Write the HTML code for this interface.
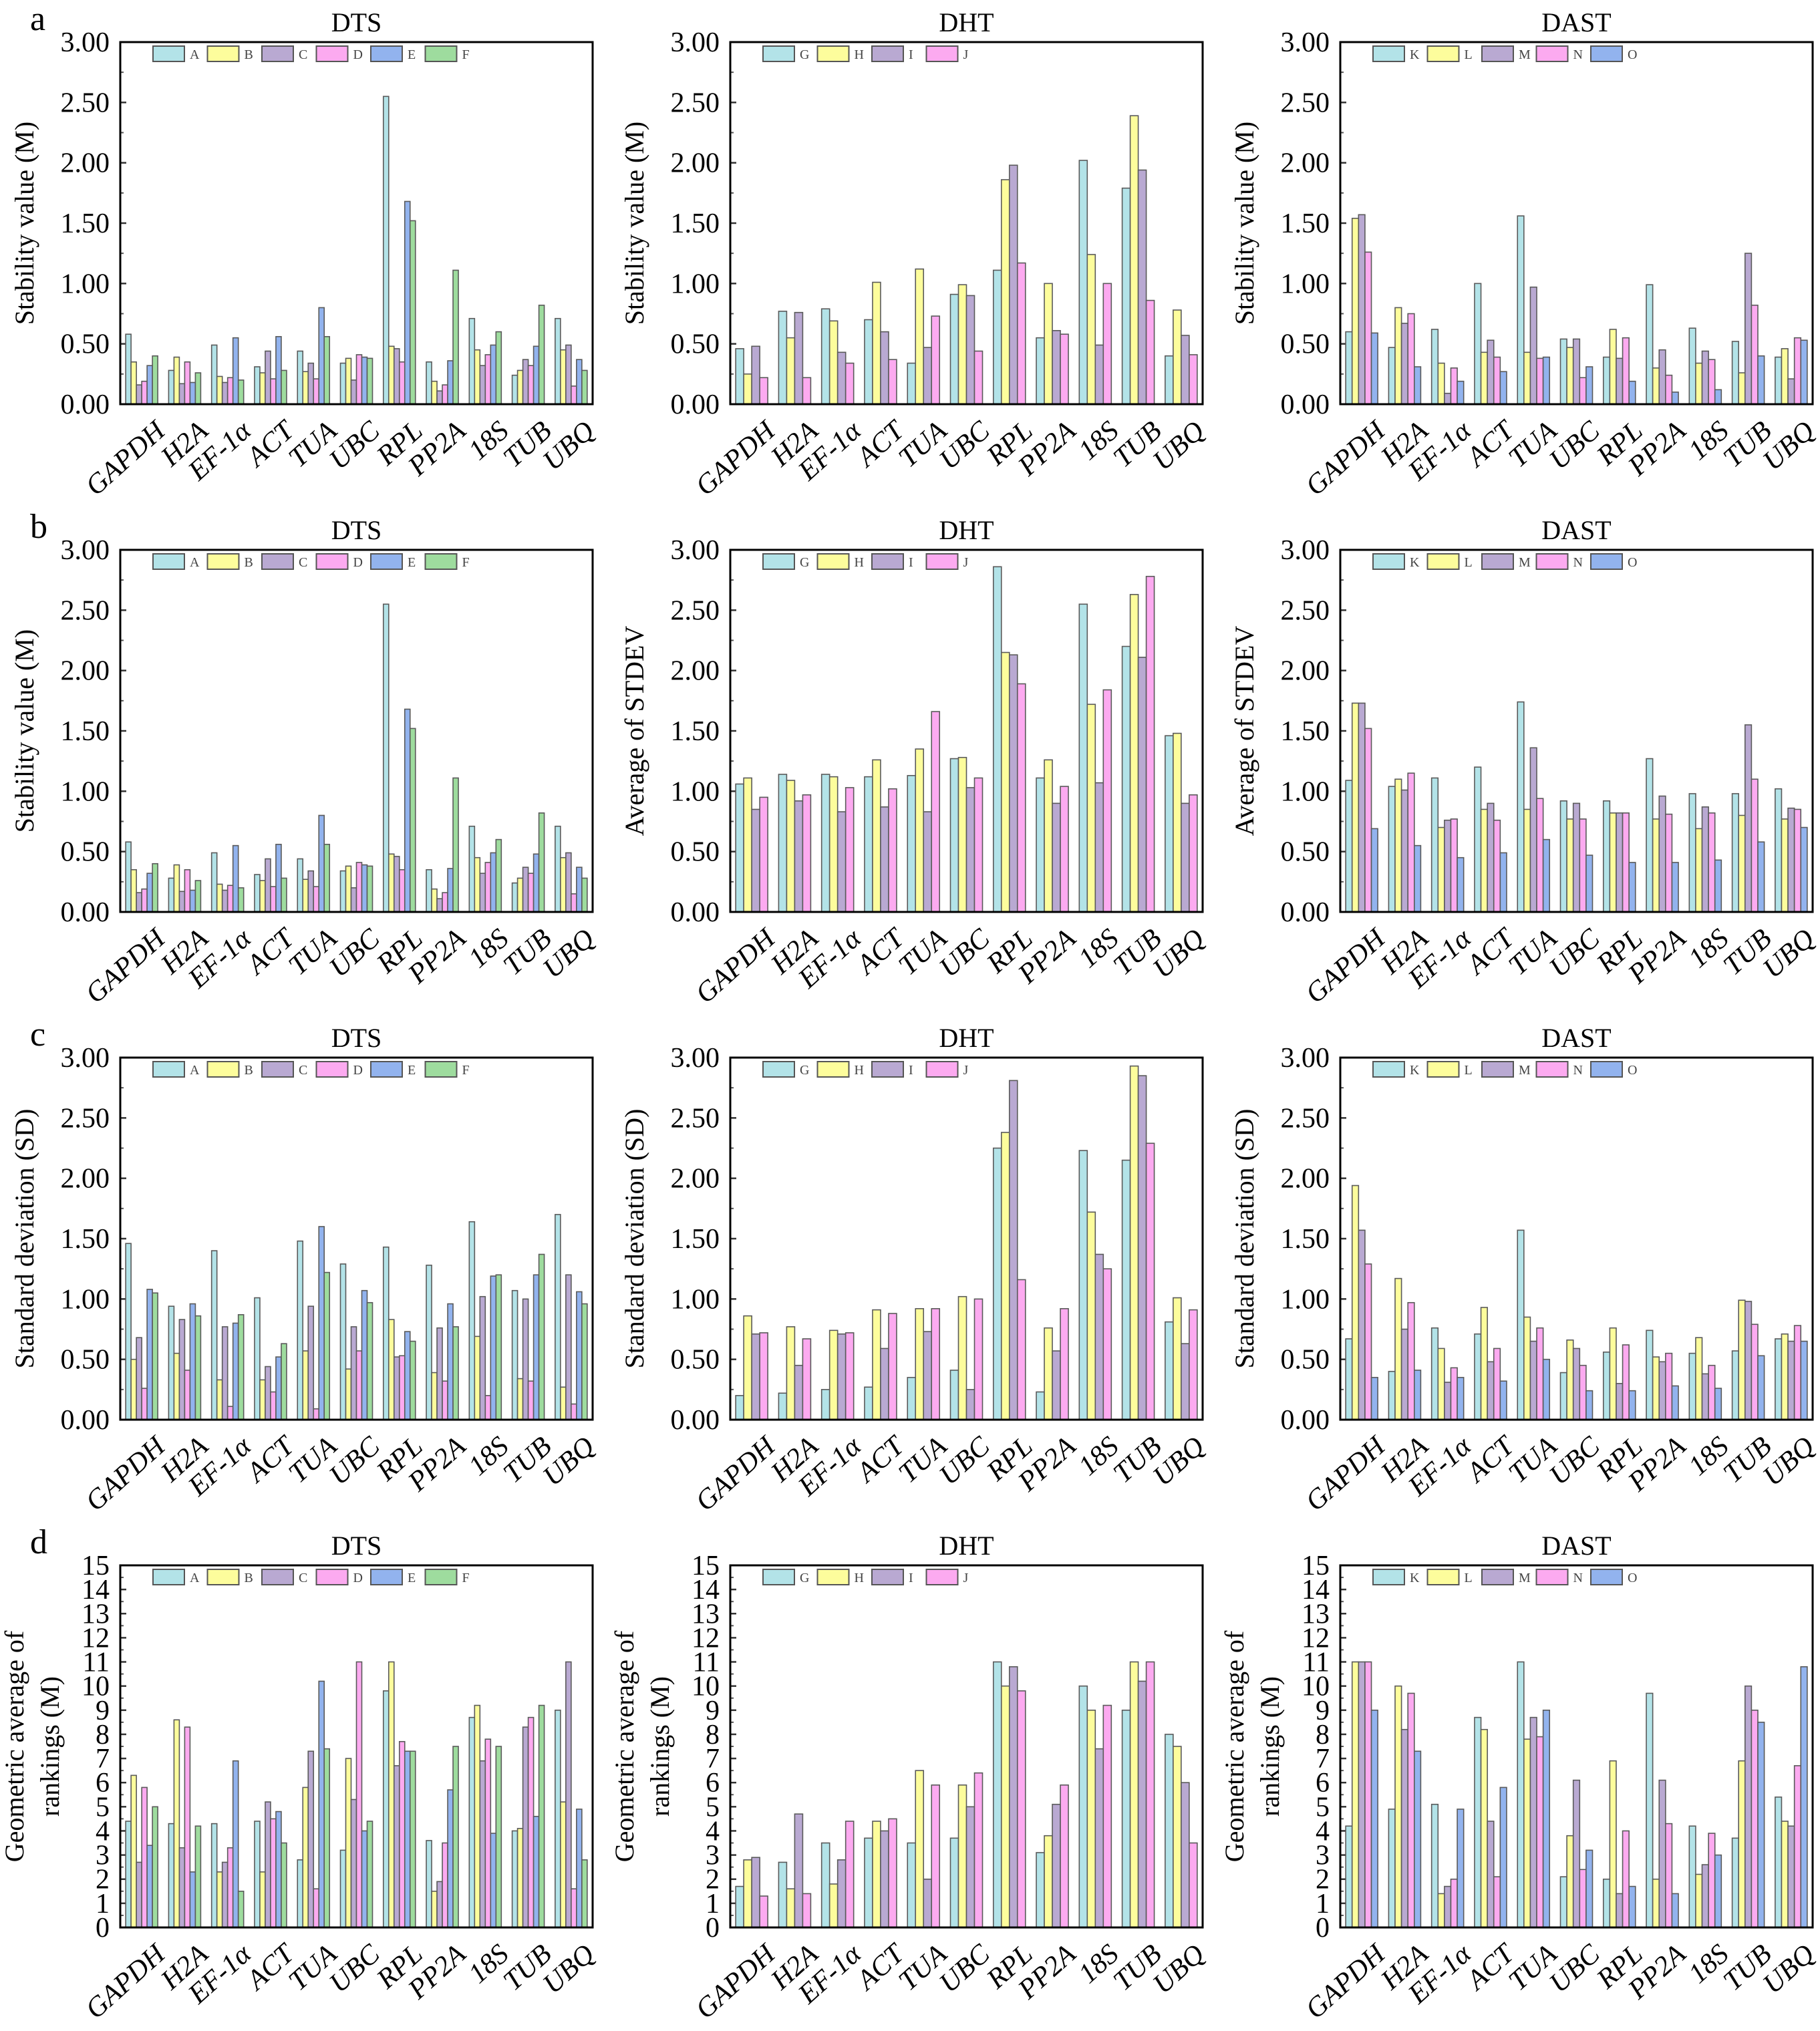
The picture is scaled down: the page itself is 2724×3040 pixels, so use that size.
<!DOCTYPE html>
<html><head><meta charset="utf-8">
<style>
html,body{margin:0;padding:0;background:#fff;}
svg{display:block;font-family:"Liberation Serif","Times New Roman",serif;}
</style></head>
<body>
<svg id="fig" width="2724" height="3040" viewBox="0 0 2724 3040" xmlns="http://www.w3.org/2000/svg"></svg>
<script>
const genes = ["GAPDH","H2A","EF-1α","ACT","TUA","UBC","RPL","PP2A","18S","TUB","UBQ"];
const dtsSeries = ["A","B","C","D","E","F"];
const dhtSeries = ["G","H","I","J"];
const dastSeries = ["K","L","M","N","O"];
const dtsColors = ["#b3e3e8","#fdfd9c","#b9a9d2","#fcaaf0","#92b3ee","#9edc9e"];
const dhtColors = ["#b3e3e8","#fdfd9c","#b9a9d2","#fcaaf0"];
const dastColors = ["#b3e3e8","#fdfd9c","#b9a9d2","#fcaaf0","#92b3ee"];
const stabTicks = ["0.00","0.50","1.00","1.50","2.00","2.50","3.00"];
const rankTicks = ["0","1","2","3","4","5","6","7","8","9","10","11","12","13","14","15"];

const aDTS = [[.58,.35,.16,.19,.32,.40],[.28,.39,.17,.35,.18,.26],[.49,.23,.18,.22,.55,.20],[.31,.26,.44,.21,.56,.28],[.44,.27,.34,.21,.80,.56],[.34,.38,.20,.41,.39,.38],[2.55,.48,.46,.35,1.68,1.52],[.35,.19,.11,.16,.36,1.11],[.71,.45,.32,.41,.49,.60],[.24,.28,.37,.32,.48,.82],[.71,.45,.49,.15,.37,.28]];
const aDHT = [[.46,.25,.48,.22],[.77,.55,.76,.22],[.79,.69,.43,.34],[.70,1.01,.60,.37],[.34,1.12,.47,.73],[.91,.99,.90,.44],[1.11,1.86,1.98,1.17],[.55,1.00,.61,.58],[2.02,1.24,.49,1.00],[1.79,2.39,1.94,.86],[.40,.78,.57,.41]];
const aDAST = [[.60,1.54,1.57,1.26,.59],[.47,.80,.67,.75,.31],[.62,.34,.09,.30,.19],[1.00,.43,.53,.39,.27],[1.56,.43,.97,.38,.39],[.54,.47,.54,.22,.31],[.39,.62,.38,.55,.19],[.99,.30,.45,.24,.10],[.63,.34,.44,.37,.12],[.52,.26,1.25,.82,.40],[.39,.46,.21,.55,.53]];
const bDTS = [[.58,.35,.16,.19,.32,.40],[.28,.39,.17,.35,.18,.26],[.49,.23,.18,.22,.55,.20],[.31,.26,.44,.21,.56,.28],[.44,.27,.34,.21,.80,.56],[.34,.38,.20,.41,.39,.38],[2.55,.48,.46,.35,1.68,1.52],[.35,.19,.11,.16,.36,1.11],[.71,.45,.32,.41,.49,.60],[.24,.28,.37,.32,.48,.82],[.71,.45,.49,.15,.37,.28]];
const bDHT = [[1.06,1.11,.85,.95],[1.14,1.09,.92,.97],[1.14,1.12,.83,1.03],[1.12,1.26,.87,1.02],[1.13,1.35,.83,1.66],[1.27,1.28,1.03,1.11],[2.86,2.15,2.13,1.89],[1.11,1.26,.90,1.04],[2.55,1.72,1.07,1.84],[2.20,2.63,2.11,2.78],[1.46,1.48,.90,.97]];
const bDAST = [[1.09,1.73,1.73,1.52,.69],[1.04,1.10,1.01,1.15,.55],[1.11,.70,.76,.77,.45],[1.20,.85,.90,.76,.49],[1.74,.85,1.36,.94,.60],[.92,.77,.90,.77,.47],[.92,.82,.82,.82,.41],[1.27,.77,.96,.81,.41],[.98,.69,.87,.82,.43],[.98,.80,1.55,1.10,.58],[1.02,.77,.86,.85,.70]];
const cDTS = [[1.46,.50,.68,.26,1.08,1.05],[.94,.55,.83,.41,.96,.86],[1.40,.33,.77,.11,.80,.87],[1.01,.33,.44,.23,.52,.63],[1.48,.57,.94,.09,1.60,1.22],[1.29,.42,.77,.57,1.07,.97],[1.43,.83,.52,.53,.73,.65],[1.28,.39,.76,.32,.96,.77],[1.64,.69,1.02,.20,1.19,1.20],[1.07,.34,1.00,.32,1.20,1.37],[1.70,.27,1.20,.13,1.06,.96]];
const cDHT = [[.20,.86,.71,.72],[.22,.77,.45,.67],[.25,.74,.71,.72],[.27,.91,.59,.88],[.35,.92,.73,.92],[.41,1.02,.25,1.00],[2.25,2.38,2.81,1.16],[.23,.76,.57,.92],[2.23,1.72,1.37,1.25],[2.15,2.93,2.85,2.29],[.81,1.01,.63,.91]];
const cDAST = [[.67,1.94,1.57,1.29,.35],[.40,1.17,.75,.97,.41],[.76,.59,.31,.43,.35],[.71,.93,.48,.59,.32],[1.57,.85,.65,.76,.50],[.39,.66,.59,.45,.24],[.56,.76,.30,.62,.24],[.74,.52,.48,.55,.28],[.55,.68,.38,.45,.26],[.57,.99,.98,.79,.53],[.67,.71,.65,.78,.65]];
const dDTS = [[4.4,6.3,2.7,5.8,3.4,5.0],[4.3,8.6,3.3,8.3,2.3,4.2],[4.3,2.3,2.7,3.3,6.9,1.5],[4.4,2.3,5.2,4.5,4.8,3.5],[2.8,5.8,7.3,1.6,10.2,7.4],[3.2,7.0,5.3,11.0,4.0,4.4],[9.8,11.0,6.7,7.7,7.3,7.3],[3.6,1.5,1.9,3.5,5.7,7.5],[8.7,9.2,6.9,7.8,3.9,7.5],[4.0,4.1,8.3,8.7,4.6,9.2],[9.0,5.2,11.0,1.6,4.9,2.8]];
const dDHT = [[1.7,2.8,2.9,1.3],[2.7,1.6,4.7,1.4],[3.5,1.8,2.8,4.4],[3.7,4.4,4.0,4.5],[3.5,6.5,2.0,5.9],[3.7,5.9,5.0,6.4],[11.0,10.0,10.8,9.8],[3.1,3.8,5.1,5.9],[10.0,9.0,7.4,9.2],[9.0,11.0,10.2,11.0],[8.0,7.5,6.0,3.5]];
const dDAST = [[4.2,11.0,11.0,11.0,9.0],[4.9,10.0,8.2,9.7,7.3],[5.1,1.4,1.7,2.0,4.9],[8.7,8.2,4.4,2.1,5.8],[11.0,7.8,8.7,7.9,9.0],[2.1,3.8,6.1,2.4,3.2],[2.0,6.9,1.4,4.0,1.7],[9.7,2.0,6.1,4.3,1.4],[4.2,2.2,2.6,3.9,3.0],[3.7,6.9,10.0,9.0,8.5],[5.4,4.4,4.2,6.7,10.8]];

const NS = "http://www.w3.org/2000/svg";
const svg = document.getElementById("fig");
function mk(tag, attrs, parent, text){
  const e = document.createElementNS(NS, tag);
  for (const k in attrs) e.setAttribute(k, attrs[k]);
  if (text !== undefined) e.textContent = text;
  (parent||svg).appendChild(e);
  return e;
}
const colX = [180, 1093, 2006];
const rowY = [63, 823, 1583, 2343];
const PW = 707, PH = 542;

function panel(row, col, title, ytitle, values, series, colors, ticks, maxV, minorStep, letter){
  const x0 = colX[col], y0 = rowY[row];
  const g = mk("g", {});
  
  
  const yScale = v => y0 + PH - v / maxV * PH;
  const slot = PW / genes.length;
  const gw = 48;
  const bw = gw / series.length;
  if (letter){
    const t = mk("text", {x: x0 - 135, y: y0 - 18, "font-size": 52}, g, letter);
    
    
  }
  const tt = mk("text", {x: x0 + PW/2, y: y0 - 16, "font-size": 40, "text-anchor": "middle"}, g, title);
  
  
  if (Array.isArray(ytitle)){
    const yt = mk("text", {transform: `translate(${x0-145},${y0+PH/2}) rotate(-90)`, "font-size": 40, "text-anchor": "middle"}, g, ytitle[0]);
    
    
    const yt2 = mk("text", {transform: `translate(${x0-92},${y0+PH/2}) rotate(-90)`, "font-size": 40, "text-anchor": "middle"}, g, ytitle[1]);
    
    
  } else {
    const yt = mk("text", {transform: `translate(${x0-130},${y0+PH/2}) rotate(-90)`, "font-size": 40, "text-anchor": "middle"}, g, ytitle);
    
    
  }
  const step = maxV / (ticks.length - 1);
  ticks.forEach((lab, i) => {
    const v = i * step, y = yScale(v);
    const tl = mk("text", {x: x0 - 16, y: y + 14, "font-size": 42, "text-anchor": "end"}, g, lab);
    
    
    mk("line", {x1: x0, x2: x0 + 9, y1: y, y2: y, stroke: "#333", "stroke-width": 2.5}, g);
  });
  for (let v = minorStep; v < maxV; v += minorStep*2){
    const y = yScale(v);
    mk("line", {x1: x0, x2: x0 + 5, y1: y, y2: y, stroke: "#555", "stroke-width": 2}, g);
  }
  values.forEach((vals, gi) => {
    const gx = x0 + gi * slot + (slot - gw) / 2;
    vals.forEach((v, si) => {
      const y = yScale(v);
      const r = mk("rect", {x: gx + si*bw, y: y, width: bw, height: y0 + PH - y, fill: colors[si], stroke: "#5a5a5a", "stroke-width": 1.6}, g);
      
      
    });
    const cx = x0 + gi * slot + slot/2 + 18, cy = y0 + PH + 22;
    const xl = mk("text", {transform: `translate(${cx},${cy}) rotate(-42)`, "font-size": 42, "font-style": "italic", "text-anchor": "end", "dominant-baseline": "hanging"}, g, genes[gi]);
    
    
  });
  series.forEach((s, si) => {
    const lx = x0 + 49 + si * 81.5, ly = y0 + 6;
    const lr = mk("rect", {x: lx, y: ly, width: 47, height: 23, fill: colors[si], stroke: "#555", "stroke-width": 2}, g);
    
    
    const lt = mk("text", {x: lx + 55, y: ly + 19, "font-size": 20, fill: "#444"}, g, s);
    
    
  });
  const fr = mk("rect", {x: x0, y: y0, width: PW, height: PH, fill: "none", stroke: "#000", "stroke-width": 3}, g);
  
  
}

panel(0,0,"DTS","Stability value (M)",aDTS,dtsSeries,dtsColors,stabTicks,3,0.25,"a");
panel(0,1,"DHT","Stability value (M)",aDHT,dhtSeries,dhtColors,stabTicks,3,0.25);
panel(0,2,"DAST","Stability value (M)",aDAST,dastSeries,dastColors,stabTicks,3,0.25);
panel(1,0,"DTS","Stability value (M)",bDTS,dtsSeries,dtsColors,stabTicks,3,0.25,"b");
panel(1,1,"DHT","Average of STDEV",bDHT,dhtSeries,dhtColors,stabTicks,3,0.25);
panel(1,2,"DAST","Average of STDEV",bDAST,dastSeries,dastColors,stabTicks,3,0.25);
panel(2,0,"DTS","Standard deviation (SD)",cDTS,dtsSeries,dtsColors,stabTicks,3,0.25,"c");
panel(2,1,"DHT","Standard deviation (SD)",cDHT,dhtSeries,dhtColors,stabTicks,3,0.25);
panel(2,2,"DAST","Standard deviation (SD)",cDAST,dastSeries,dastColors,stabTicks,3,0.25);
panel(3,0,"DTS",["Geometric average of","rankings (M)"],dDTS,dtsSeries,dtsColors,rankTicks,15,0.5,"d");
panel(3,1,"DHT",["Geometric average of","rankings (M)"],dDHT,dhtSeries,dhtColors,rankTicks,15,0.5);
panel(3,2,"DAST",["Geometric average of","rankings (M)"],dDAST,dastSeries,dastColors,rankTicks,15,0.5);
</script>
</body></html>
